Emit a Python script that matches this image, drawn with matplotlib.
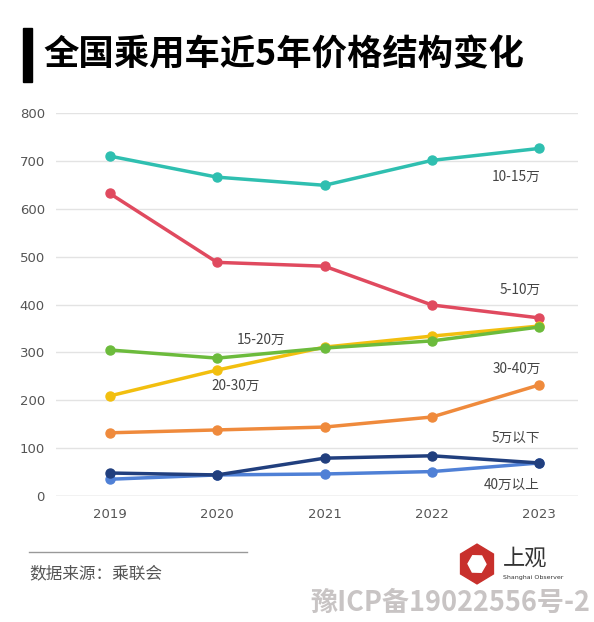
import numpy as np
import matplotlib
matplotlib.use("Agg")
import matplotlib.pyplot as plt
from matplotlib.patches import RegularPolygon

plt.rcParams['font.family'] = ['Noto Sans CJK SC', 'DejaVu Sans']

years = [2019, 2020, 2021, 2022, 2023]

# 销量（万辆）
s_10_15 = [710, 666, 649, 701, 726]
s_5_10 = [632, 488, 480, 399, 372]
s_20_30 = [209, 263, 311, 334, 355]
s_15_20 = [305, 288, 309, 324, 353]
s_30_40 = [132, 138, 144, 165, 232]
s_40up = [35, 44, 46, 51, 69]
s_5down = [48, 44, 79, 84, 69]

series = [
    ("10-15万", s_10_15, "#2fbfb0"),
    ("5-10万", s_5_10, "#e04a5f"),
    ("20-30万", s_20_30, "#f2bf0f"),
    ("15-20万", s_15_20, "#6cbb3c"),
    ("30-40万", s_30_40, "#ef8a3c"),
    ("40万以上", s_40up, "#4f80d6"),
    ("5万以下", s_5down, "#213f7e"),
]

fig = plt.figure(figsize=(5.94, 6.22), dpi=100)
ax = fig.add_axes([56/594, 1-496/622, 522/594, 383/622])

for name, vals, col in series:
    ax.plot(years, vals, color=col, lw=2.5, marker='o', ms=6.5,
            solid_capstyle='round', zorder=3)

ax.set_xlim(2018.5, 2023.36)
ax.set_ylim(0, 800)
ax.set_yticks(np.arange(0, 801, 100))
ax.set_xticks(years)
ax.grid(axis='y', color='#e3e3e3', lw=1)
ax.axhline(0, color='#d6d6d6', lw=1, zorder=1)
ax.set_axisbelow(True)
for sp in ax.spines.values():
    sp.set_visible(False)
ax.tick_params(length=0, labelsize=9.5, labelcolor='#555555')
ax.tick_params(axis='y', pad=8)
ax.tick_params(axis='x', pad=9)
for lab in ax.get_xticklabels() + ax.get_yticklabels():
    lab.set_family('DejaVu Sans')

lab_kw = dict(textcoords='offset pixels', fontsize=9.8, color='#444444', va='center')
ax.annotate("10-15万", (2023, s_10_15[-1]), xytext=(1, -28), ha='right', **lab_kw)
ax.annotate("5-10万", (2023, s_5_10[-1]), xytext=(1, 28), ha='right', **lab_kw)
ax.annotate("15-20万", (2020, s_15_20[1]), xytext=(44, 18), ha='center', **lab_kw)
ax.annotate("20-30万", (2020, s_20_30[1]), xytext=(18, -16), ha='center', **lab_kw)
ax.annotate("30-40万", (2023, s_30_40[-1]), xytext=(2, 16), ha='right', **lab_kw)
ax.annotate("5万以下", (2023, s_5down[-1]), xytext=(1, 25), ha='right', **lab_kw)
ax.annotate("40万以上", (2023, s_40up[-1]), xytext=(0, -22), ha='right', **lab_kw)

# 标题
fig.patches.append(plt.Rectangle((23/594, 1-82/622), 9/594, 54/622,
                                 transform=fig.transFigure, color='black'))
fig.text(43/594, 1-55/622, "全国乘用车近5年价格结构变化", fontsize=25.5,
         fontweight='bold', va='center', ha='left')

# 数据来源
fig.add_artist(plt.Line2D([29/594, 247/594], [1-552/622, 1-552/622],
                          color='#999999', lw=1, transform=fig.transFigure))
fig.text(29/594, 1-574/622, "数据来源：乘联会", fontsize=12, color='#555555',
         va='center', ha='left')

# 上观 logo
fig.patches.append(RegularPolygon((477/594, 1-564/622), 6, radius=19/594,
                                  orientation=0, transform=fig.transFigure,
                                  color='#c8302c'))
fig.patches.append(RegularPolygon((477/594, 1-564/622), 6, radius=9/594,
                                  orientation=0.5, transform=fig.transFigure,
                                  color='white'))
fig.text(503/594, 1-558/622, "上观", fontsize=16, color='#333333', va='center', ha='left')
fig.text(503/594, 1-578/622, "Shanghai Observer", fontsize=4.5, color='#333333',
         va='center', ha='left', family='DejaVu Sans')

# 水印
fig.text(590/594, 1-603/622, "豫ICP备19022556号-2", fontsize=19.5, color='#c8c4c4',
         fontweight='bold', va='center', ha='right')

fig.savefig("out.png", dpi=100)
